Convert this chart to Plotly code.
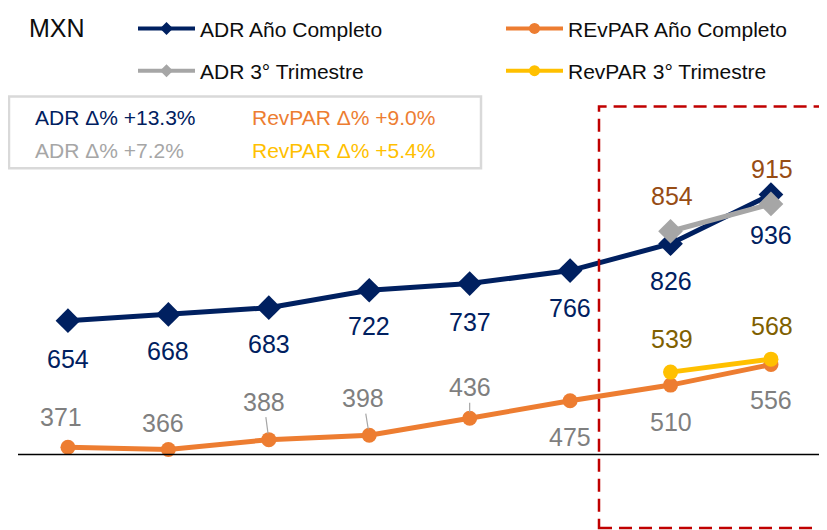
import plotly.graph_objects as go

# ---------------- data ----------------
POSITIONS = [0, 1, 2, 3, 4, 5, 6, 7]
ADR_FULL = [654, 668, 683, 722, 737, 766, 826, 936]
REVPAR_FULL = [371, 366, 388, 398, 436, 475, 510, 556]
Q3_POSITIONS = [6, 7]
ADR_Q3 = [854, 915]
REVPAR_Q3 = [539, 568]
BASELINE = 355

SERIES_NAMES = ["ADR Año Completo", "REvPAR Año Completo", "ADR 3° Trimestre", "RevPAR 3° Trimestre"]
DELTA_TEXTS = ["ADR Δ% +13.3%", "RevPAR Δ% +9.0%", "ADR Δ% +7.2%", "RevPAR Δ% +5.4%"]
UNIT_LABEL = "MXN"

# ---------------- style ----------------
NAVY = "#002060"
ORANGE = "#ED7D31"
GRAY = "#A6A6A6"
YELLOW = "#FFC000"
LBL_GRAY = "#7F7F7F"
BROWN = "#974C14"
OLIVE = "#7F6000"
RED = "#C00000"
FONT = "Arial, Liberation Sans, sans-serif"

OFF = 8  # page body margin of the html
W, H = 827 - OFF, 530 - OFF


def px(xp):
    return (xp - OFF) / W


def py(yp):
    return 1 - (yp - OFF) / H


fig = go.Figure()

main_specs = [
    (POSITIONS, ADR_FULL, NAVY, "diamond", 19),
    (POSITIONS, REVPAR_FULL, ORANGE, "circle", 15),
    (Q3_POSITIONS, ADR_Q3, GRAY, "diamond", 19),
    (Q3_POSITIONS, REVPAR_Q3, YELLOW, "circle", 15),
]
for (xs, ys, c, sym, sz), name in zip(main_specs, SERIES_NAMES):
    fig.add_trace(go.Scatter(x=xs, y=ys, name=name, mode="lines+markers",
                             line=dict(color=c, width=5), marker=dict(symbol=sym, size=sz, color=c),
                             showlegend=False))

# legend entries (smaller symbol like the original)
legend_ids = ["legend", "legend2", "legend3", "legend4"]
legend_sym = [("diamond", 10), ("circle", 11), ("diamond", 10), ("circle", 11)]
for (xs, ys, c, _, _), name, lid, (sym, sz) in zip(main_specs, SERIES_NAMES, legend_ids, legend_sym):
    fig.add_trace(go.Scatter(x=[None], y=[None], name=name, mode="lines+markers",
                             line=dict(color=c, width=4), marker=dict(symbol=sym, size=sz, color=c),
                             legend=lid, showlegend=True, hoverinfo="skip"))

annotations = []


def label(x, y, text, color, dy, dx=0, leader=False):
    if leader:
        annotations.append(dict(x=x, y=y, xref="x", yref="y", text=text, showarrow=True,
                                ax=dx, ay=dy, arrowhead=0, arrowwidth=1.2, arrowcolor=GRAY,
                                standoff=6, font=dict(family=FONT, size=25, color=color)))
    else:
        annotations.append(dict(x=x, y=y, xref="x", yref="y", text=text, showarrow=False,
                                xshift=dx, yshift=-dy, font=dict(family=FONT, size=25, color=color)))


ADR_OFFSETS = [38, 37, 36, 36, 38, 37, 37, 40]
for x, v, d in zip(POSITIONS, ADR_FULL, ADR_OFFSETS):
    label(x, v, str(v), NAVY, d)

REV_OFFSETS = [(-30, -7, False), (-26, -5, False), (-38, -5, True), (-37, -6, True),
               (-31, 0, True), (36, 0, False), (37, 0, False), (35, 0, False)]
for x, v, (d, dx, ld) in zip(POSITIONS, REVPAR_FULL, REV_OFFSETS):
    label(x, v, str(v), LBL_GRAY, d, dx, ld)

for x, v in zip(Q3_POSITIONS, ADR_Q3):
    label(x, v, str(v), BROWN, -35, 1)
for x, v in zip(Q3_POSITIONS, REVPAR_Q3):
    label(x, v, str(v), OLIVE, -33, 1)

# unit label
annotations.append(dict(x=px(27), y=py(19), xref="paper", yref="paper", text=UNIT_LABEL,
                        showarrow=False, xanchor="left", yanchor="middle",
                        font=dict(family=FONT, size=25, color="#0D0D0D")))

# delta box texts
delta_pos = [(33, 110, NAVY), (250, 110, ORANGE), (33, 144, GRAY), (250, 144, YELLOW)]
for t, (xp_, yp_, c) in zip(DELTA_TEXTS, delta_pos):
    annotations.append(dict(x=px(xp_), y=py(yp_), xref="paper", yref="paper", text=t,
                            showarrow=False, xanchor="left", yanchor="middle",
                            font=dict(family=FONT, size=21, color=c)))

shapes = [
    dict(type="line", xref="paper", yref="y", x0=px(18), x1=px(822), y0=BASELINE, y1=BASELINE,
         line=dict(color="#000000", width=1.5)),
    dict(type="rect", xref="paper", yref="paper", x0=px(9), x1=px(481), y0=py(162), y1=py(89),
         line=dict(color="#D9D9D9", width=2.5), fillcolor="rgba(0,0,0,0)"),
    dict(type="rect", xref="paper", yref="paper", x0=px(599), x1=px(822), y0=py(528), y1=py(99),
         line=dict(color=RED, width=2.5, dash="13px,7px"), fillcolor="rgba(0,0,0,0)"),
]

leg_common = dict(xanchor="left", yanchor="middle", orientation="h", itemwidth=57,
                  bgcolor="rgba(0,0,0,0)", font=dict(family=FONT, size=21, color="#0D0D0D"))

# category 0 at page x=68, spacing 100.43 px; value v at page y = 614.6 - 0.455 v
fig.update_layout(
    width=W, height=H,
    margin=dict(l=0, r=0, t=0, b=0),
    paper_bgcolor="white", plot_bgcolor="white",
    xaxis=dict(range=[-0.597, 7.558], visible=False, fixedrange=True),
    yaxis=dict(range=[186, 1333], visible=False, fixedrange=True),
    showlegend=True,
    legend=dict(x=px(133), y=py(20), **leg_common),
    legend2=dict(x=px(501), y=py(20), **leg_common),
    legend3=dict(x=px(133), y=py(63), **leg_common),
    legend4=dict(x=px(501), y=py(63), **leg_common),
    annotations=annotations,
    shapes=shapes,
)

fig.write_html("out.html")
